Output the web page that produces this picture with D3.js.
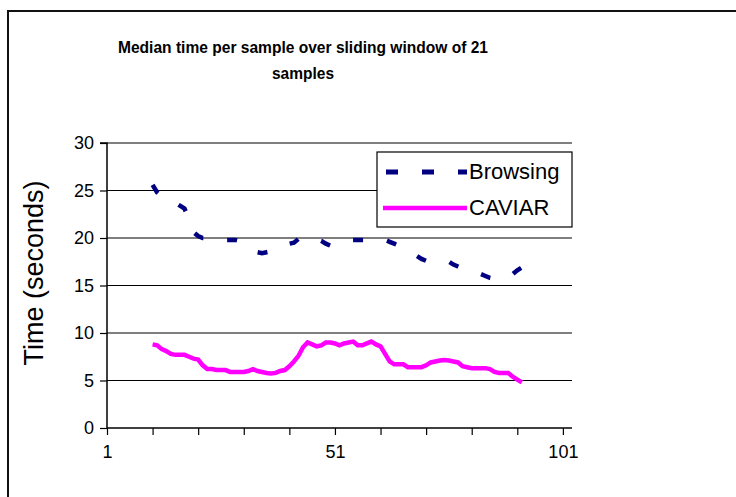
<!DOCTYPE html>
<html>
<head>
<meta charset="utf-8">
<script src="https://cdn.jsdelivr.net/npm/d3@7"></script>
<style>
  body { margin: 0; background: #fff; }
  svg { display: block; font-family: Arial, "Liberation Sans", sans-serif; }
</style>
</head>
<body>
<svg id="chart"></svg>
<script>
// sample numbers 11..92 (sliding window of 21)
const samples = d3.range(11, 93);

const browsing = [
  25.6, 24.8, 24.4, 24.0, 23.9, 23.7, 23.4, 23.1, 22.0, 20.6,
  20.2, 20.0, 20.0, 19.9, 19.9, 19.8, 19.8, 19.8, 19.8, 19.7,
  19.4, 19.0, 18.7, 18.5, 18.4, 18.5, 18.6, 18.8, 19.0, 19.3,
  19.4, 19.5, 19.9, 20.1, 19.9, 19.8, 19.8, 19.7, 19.4, 19.2,
  19.3, 19.5, 19.7, 19.8, 19.8, 19.8, 19.8, 19.8, 19.8, 19.8,
  19.8, 19.8, 19.6, 19.4, 19.2, 19.0, 18.7, 18.4, 18.1, 17.8,
  17.6, 17.5, 17.5, 17.5, 17.4, 17.5, 17.2, 17.0, 16.8, 16.6,
  16.4, 16.3, 16.2, 16.0, 15.8, 15.7, 15.7, 15.8, 15.9, 16.2,
  16.6, 16.9
];

const caviar = [
  8.8, 8.7, 8.3, 8.1, 7.8, 7.7, 7.7, 7.7, 7.5, 7.3,
  7.2, 6.6, 6.2, 6.2, 6.1, 6.1, 6.1, 5.9, 5.9, 5.9,
  5.9, 6.0, 6.2, 6.0, 5.9, 5.8, 5.75, 5.8, 6.0, 6.1,
  6.5, 7.0, 7.6, 8.5, 9.0, 8.8, 8.6, 8.7, 9.0, 9.0,
  8.9, 8.7, 8.9, 9.0, 9.1, 8.7, 8.7, 8.9, 9.1, 8.8,
  8.6, 7.8, 7.0, 6.7, 6.7, 6.7, 6.4, 6.4, 6.4, 6.4,
  6.6, 6.9, 7.0, 7.1, 7.15, 7.1, 7.0, 6.9, 6.5, 6.4,
  6.3, 6.3, 6.3, 6.3, 6.2, 5.9, 5.8, 5.8, 5.8, 5.4,
  5.1, 4.8
];

const seriesNames = ['Browsing', 'CAVIAR'];
const yTicks = [0, 5, 10, 15, 20, 25, 30];
const xTicks = d3.range(1, 102, 10);
const xLabels = [1, 51, 101];

const width = 736, height = 497;
const plot = {left: 107, right: 572, top: 143, bottom: 428};

const svg = d3.select('#chart')
    .attr('width', width)
    .attr('height', height);

// outer chart frame (left and top edges visible)
svg.append('path')
    .attr('d', `M8,${height} L8,11 L${width},11`)
    .attr('fill', 'none')
    .attr('stroke', '#111')
    .attr('stroke-width', 2);

const x = d3.scaleLinear().domain([1, 103]).range([plot.left, plot.right]);
const y = d3.scaleLinear().domain([0, 30]).range([plot.bottom, plot.top]);

// title (narrow bold face in the original, so squeeze it)
const title = svg.append('text')
    .attr('text-anchor', 'middle')
    .style('font-weight', 'bold')
    .style('font-size', '17px');
title.append('tspan').attr('x', 303).attr('y', 53)
    .attr('textLength', 370).attr('lengthAdjust', 'spacingAndGlyphs')
    .text('Median time per sample over sliding window of 21');
title.append('tspan').attr('x', 303).attr('y', 79)
    .attr('textLength', 62).attr('lengthAdjust', 'spacingAndGlyphs')
    .text('samples');

// gridlines
svg.append('g')
  .selectAll('line')
  .data(yTicks.filter(d => d > 0))
  .join('line')
    .attr('x1', plot.left).attr('x2', plot.right)
    .attr('y1', d => y(d)).attr('y2', d => y(d))
    .attr('stroke', '#000')
    .attr('stroke-width', 1.2);

// y axis
const yAxis = d3.axisLeft(y)
    .tickValues(yTicks)
    .tickSize(7)
    .tickPadding(6);
svg.append('g')
    .attr('transform', `translate(${plot.left},0)`)
    .call(yAxis)
    .call(g => g.select('.domain').attr('stroke-width', 1.5).attr('d', `M-7,${plot.top}H0V${plot.bottom}`))
    .call(g => g.selectAll('.tick line').attr('stroke-width', 1.2))
    .call(g => g.selectAll('text').style('font-size', '18px').attr('fill', '#000'));

// x axis
const xAxis = d3.axisBottom(x)
    .tickValues(xTicks)
    .tickSize(7)
    .tickPadding(10)
    .tickFormat(d => xLabels.includes(d) ? d : '');
svg.append('g')
    .attr('transform', `translate(0,${plot.bottom})`)
    .call(xAxis)
    .call(g => g.select('.domain').attr('stroke-width', 1.5).attr('d', `M${plot.left},0H${plot.right}`))
    .call(g => g.selectAll('.tick line').attr('stroke-width', 1.2))
    .call(g => g.selectAll('text').style('font-size', '18px').attr('fill', '#000'));

// y axis title
svg.append('text')
    .attr('transform', 'translate(43,273) rotate(-90)')
    .attr('text-anchor', 'middle')
    .style('font-size', '27px')
    .text('Time (seconds)');

const line = d3.line()
    .x((d, i) => x(samples[i]))
    .y(d => y(d));

svg.append('path')
    .datum(caviar)
    .attr('d', line)
    .attr('fill', 'none')
    .attr('stroke', '#ff00ff')
    .attr('stroke-width', 4.5);

svg.append('path')
    .datum(browsing)
    .attr('d', line)
    .attr('fill', 'none')
    .attr('stroke', '#000080')
    .attr('stroke-width', 4.5)
    .attr('stroke-dasharray', '10,24');

// legend
const legend = svg.append('g');
legend.append('rect')
    .attr('x', 377).attr('y', 152)
    .attr('width', 195).attr('height', 75)
    .attr('fill', '#fff')
    .attr('stroke', '#000')
    .attr('stroke-width', 1.2);

legend.append('line')
    .attr('x1', 386).attr('x2', 467)
    .attr('y1', 172).attr('y2', 172)
    .attr('stroke', '#000080')
    .attr('stroke-width', 5)
    .attr('stroke-dasharray', '12,24');
legend.append('line')
    .attr('x1', 383).attr('x2', 467)
    .attr('y1', 208).attr('y2', 208)
    .attr('stroke', '#ff00ff')
    .attr('stroke-width', 4.5);

legend.selectAll('text.lbl')
  .data(seriesNames)
  .join('text')
    .attr('class', 'lbl')
    .attr('x', 469)
    .attr('y', (d, i) => 179 + i * 36)
    .style('font-size', '22px')
    .text(d => d);
</script>
</body>
</html>
